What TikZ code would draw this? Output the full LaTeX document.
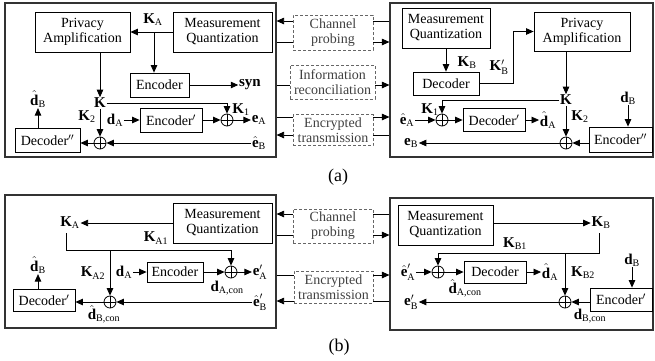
\documentclass[tikz,border=0pt]{standalone}
\usepackage{amsmath}
\usepackage{fontspec}
\setmainfont{Liberation Serif}
\usetikzlibrary{arrows.meta}
\DeclareMathSizes{15}{15}{10}{8}
\newcommand\bv[1]{\textbf{#1}}
\begin{document}
\begin{tikzpicture}[x=1pt,y=-1pt, font=\fontsize{14}{15}\selectfont, line width=0.8pt,
  >={Triangle[length=7.5pt,width=6.5pt]},
  box/.style={draw, inner sep=1pt, align=center},
  frame/.style={draw=black!80, line width=1.1pt, inner sep=0},
  dbox/.style={draw=black!60, dash pattern=on 3pt off 2pt, line width=0.7pt, align=center, text=black!75, inner sep=0},
  xor/.style={circle, draw, minimum size=12pt, inner sep=0,
    path picture={\draw (path picture bounding box.north) -- (path picture bounding box.south)
      (path picture bounding box.west) -- (path picture bounding box.east);}},
  lab/.style={inner sep=0.5pt, font=\fontsize{15}{16}\selectfont}]
\useasboundingbox (0,0) rectangle (655,360);

% ===== (a) left =====
\node[frame, minimum width=271pt, minimum height=154pt] (LA) at (140.5,80) {};
\node[box, minimum width=95pt, minimum height=40pt] (PAL) at (82.5,32) {Privacy\\Amplification};
\node[box, minimum width=99pt, minimum height=40pt] (MQL) at (222.5,32) {Measurement\\Quantization};
\draw[->] (MQL) -- (PAL);
\node[lab] (KAl) at (153,20) {$\bv{K}_{\text{A}}$};
\coordinate (bKA) at (154,32);
\node[box, minimum width=59pt, minimum height=24pt] (EncL) at (159.5,85) {Encoder};
\draw[->] (bKA) -- (bKA |- EncL.north);
\node[lab] (syn) at (250,85) {\textbf{syn}};
\draw[->] (EncL) -- (syn);
\node[lab] (Ka) at (100,103) {$\bv{K}$};
\draw[->] (PAL.south -| Ka) -- (Ka.north);
\node[xor] (X1) at (227,120) {};
\draw[->] (Ka.east) -| (X1.north);
\node[lab] (K1a) at (241,110) {$\bv{K}_{\text{1}}$};
\node[box, minimum width=62pt, minimum height=24pt] (EncpL) at (171,120) {Encoder$'$};
\node[lab] (dA) at (115,120) {$\bv{d}_{\text{A}}$};
\draw[->] (dA) -- (EncpL);
\draw[->] (EncpL) -- (X1);
\node[lab] (eA) at (259,120) {$\bv{e}_{\text{A}}$};
\draw[->] (X1) -- (eA);
\node[xor] (X2) at (100,143) {};
\node[lab] (K2a) at (87,117) {$\bv{K}_{\text{2}}$};
\draw[->] (Ka.south) -- (X2.north);
\node[box, minimum width=65pt, minimum height=24pt] (DecppL) at (47.5,140) {Decoder$''$};
\draw[->] (X2.west) -- (X2.west -| DecppL.east);
\node[lab] (ehB) at (259,143) {$\hat{\bv{e}}_{\text{B}}$};
\draw[->] (ehB) -- (X2);
\node[lab] (dhB) at (38,99) {$\hat{\bv{d}}_{\text{B}}$};
\draw[->] (DecppL.north -| dhB) -- (dhB.south);

% ===== (a) right =====
\node[frame, minimum width=263pt, minimum height=154pt] (RA) at (521.5,80) {};
\node[box, minimum width=88pt, minimum height=40pt] (MQR) at (446,28) {Measurement\\Quantization};
\node[box, minimum width=66pt, minimum height=23pt] (DecR) at (446,83.5) {Decoder};
\draw[->] (MQR) -- (DecR);
\node[lab] (KBa) at (467,63) {$\bv{K}_{\text{B}}$};
\node[box, minimum width=96pt, minimum height=39pt] (PAR) at (582,31.5) {Privacy\\Amplification};
\coordinate (bR) at (513,83.5);
\draw[->] (DecR.east) -- (bR) |- (PAR.west);
\node[lab] (KBp) at (499,67) {$\bv{K}'_{\text{B}}$};
\node[lab] (Kb) at (566,100) {$\bv{K}$};
\draw[->] (PAR.south -| Kb) -- (Kb.north);
\node[xor] (X3) at (442,120) {};
\draw[->] (Kb.west) -| (X3.north);
\node[lab] (K1b) at (430,110) {$\bv{K}_{\text{1}}$};
\node[lab] (ehA) at (407,120) {$\hat{\bv{e}}_{\text{A}}$};
\draw[->] (ehA) -- (X3);
\node[box, minimum width=62pt, minimum height=23pt] (DecpR) at (494,120) {Decoder$'$};
\draw[->] (X3) -- (DecpR);
\node[lab] (dhA) at (548,120) {$\hat{\bv{d}}_{\text{A}}$};
\draw[->] (DecpR) -- (dhA);
\node[lab] (K2b) at (580,117) {$\bv{K}_{\text{2}}$};
\node[xor] (X4) at (566,143) {};
\draw[->] (Kb.south) -- (X4.north);
\node[box, minimum width=63pt, minimum height=25pt] (EncppR) at (620.5,139.5) {Encoder$''$};
\node[lab] (dB) at (628,98) {$\bv{d}_{\text{B}}$};
\draw[->] (dB.south) -- (dB.south |- EncppR.north);
\draw[->] (EncppR.west |- X4) -- (X4.east);
\node[lab] (eB) at (411,143) {$\bv{e}_{\text{B}}$};
\draw[->] (X4) -- (eB);

% ===== (a) middle =====
\node[dbox, minimum width=80pt, minimum height=35pt] (CPa) at (333,32.5) {Channel\\probing};
\node[dbox, minimum width=85pt, minimum height=34pt] (IRa) at (332.5,82) {Information\\reconciliation};
\node[dbox, minimum width=80pt, minimum height=31pt] (ETa) at (333,130) {Encrypted\\transmission};
\coordinate (y1) at (0,21);
\coordinate (y2) at (0,42);
\coordinate (y3) at (0,85);
\coordinate (y4) at (0,117);
\coordinate (y5) at (0,135);
\draw (RA.west |- y1) -- (CPa.east |- y1);
\draw[->] (CPa.west |- y1) -- (LA.east |- y1);
\draw (LA.east |- y2) -- (CPa.west |- y2);
\draw[->] (CPa.east |- y2) -- (RA.west |- y2);
\draw (LA.east |- y3) -- (IRa.west |- y3);
\draw[->] (IRa.east |- y3) -- (RA.west |- y3);
\draw (LA.east |- y4) -- (ETa.west |- y4);
\draw[->] (ETa.east |- y4) -- (RA.west |- y4);
\draw (RA.west |- y5) -- (ETa.east |- y5);
\draw[->] (ETa.west |- y5) -- (LA.east |- y5);
\node[font=\fontsize{18}{20}\selectfont] (capa) at (338,177) {(a)};

% ===== (b) left =====
\node[frame, minimum width=271pt, minimum height=133pt] (LB) at (140.5,261.5) {};
\node[box, minimum width=99pt, minimum height=40pt] (MQLb) at (222.5,223) {Measurement\\Quantization};
\node[lab] (KAb) at (70,223) {$\bv{K}_{\text{A}}$};
\draw[->] (MQLb) -- (KAb);
\coordinate (ka0) at (66,233);
\coordinate (ka1) at (66,250);
\node[xor] (X5) at (231,272) {};
\node[xor] (X6) at (110,302) {};
\draw[->] (ka0) -- (ka1) -| (X5.north);
\draw[->] (ka1 -| X6) -- (X6.north);
\node[lab] (KA1) at (156,238) {$\bv{K}_{\text{A1}}$};
\node[lab] (KA2) at (93,273) {$\bv{K}_{\text{A2}}$};
\node[lab] (dAb) at (124,272) {$\bv{d}_{\text{A}}$};
\node[box, minimum width=56pt, minimum height=20pt] (EncLb) at (175,272) {Encoder};
\draw[->] (dAb) -- (EncLb);
\draw[->] (EncLb) -- (X5);
\node[lab] (eApb) at (260,272) {$\bv{e}'_{\text{A}}$};
\draw[->] (X5) -- (eApb);
\node[lab] (dAcon) at (227,288) {$\bv{d}_{\text{A,con}}$};
\node[box, minimum width=62pt, minimum height=22pt] (DecpLb) at (44,300) {Decoder$'$};
\draw[->] (X6.west) -- (X6.west -| DecpLb.east);
\node[lab] (dhBb) at (38,265) {$\hat{\bv{d}}_{\text{B}}$};
\draw[->] (DecpLb.north -| dhBb) -- (dhBb.south);
\node[lab] (ehBpb) at (260,302) {$\hat{\bv{e}}'_{\text{B}}$};
\draw[->] (ehBpb) -- (X6);
\node[lab] (dhBcon) at (104,314) {$\hat{\bv{d}}_{\text{B,con}}$};

% ===== (b) right =====
\node[frame, minimum width=263pt, minimum height=132pt] (RB) at (521.5,264) {};
\node[box, minimum width=95pt, minimum height=40pt] (MQRb) at (445.5,225) {Measurement\\Quantization};
\node[lab] (KBb) at (601,223) {$\bv{K}_{\text{B}}$};
\draw[->] (MQRb.east |- KBb) -- (KBb);
\coordinate (kb0) at (599,233);
\coordinate (kb1) at (599,253);
\node[xor] (X7) at (438,272) {};
\node[xor] (X8) at (565,302) {};
\draw[->] (kb0) -- (kb1) -| (X7.north);
\draw[->] (kb1 -| X8) -- (X8.north);
\node[lab] (KB1) at (515,244) {$\bv{K}_{\text{B1}}$};
\node[lab] (KB2) at (583,273) {$\bv{K}_{\text{B2}}$};
\node[lab] (eApR) at (408,272) {$\hat{\bv{e}}'_{\text{A}}$};
\draw[->] (eApR) -- (X7);
\node[box, minimum width=62pt, minimum height=22pt] (DecRb) at (495,272) {Decoder};
\draw[->] (X7) -- (DecRb);
\node[lab] (dhAb) at (550,272) {$\hat{\bv{d}}_{\text{A}}$};
\draw[->] (DecRb) -- (dhAb);
\node[lab] (dhAcon) at (465,288) {$\hat{\bv{d}}_{\text{A,con}}$};
\node[lab] (dBb) at (632,260) {$\bv{d}_{\text{B}}$};
\node[box, minimum width=62pt, minimum height=23pt] (EncpRb) at (621,299.5) {Encoder$'$};
\draw[->] (dBb.south) -- (dBb.south |- EncpRb.north);
\draw[->] (EncpRb.west |- X8) -- (X8);
\node[lab] (eBpR) at (411,302) {$\bv{e}'_{\text{B}}$};
\draw[->] (X8) -- (eBpR);
\node[lab] (dBcon) at (590,316) {$\bv{d}_{\text{B,con}}$};

% ===== (b) middle =====
\node[dbox, minimum width=80pt, minimum height=34pt] (CPb) at (333,226) {Channel\\probing};
\node[dbox, minimum width=79pt, minimum height=32pt] (ETb) at (333.5,287) {Encrypted\\transmission};
\coordinate (y6) at (0,214);
\coordinate (y7) at (0,235);
\coordinate (y8) at (0,275);
\coordinate (y9) at (0,301);
\draw (RB.west |- y6) -- (CPb.east |- y6);
\draw[->] (CPb.west |- y6) -- (LB.east |- y6);
\draw (LB.east |- y7) -- (CPb.west |- y7);
\draw[->] (CPb.east |- y7) -- (RB.west |- y7);
\draw (LB.east |- y8) -- (ETb.west |- y8);
\draw[->] (ETb.east |- y8) -- (RB.west |- y8);
\draw (RB.west |- y9) -- (ETb.east |- y9);
\draw[->] (ETb.west |- y9) -- (LB.east |- y9);
\node[font=\fontsize{18}{20}\selectfont] (capb) at (339,347) {(b)};
\end{tikzpicture}
\end{document}
